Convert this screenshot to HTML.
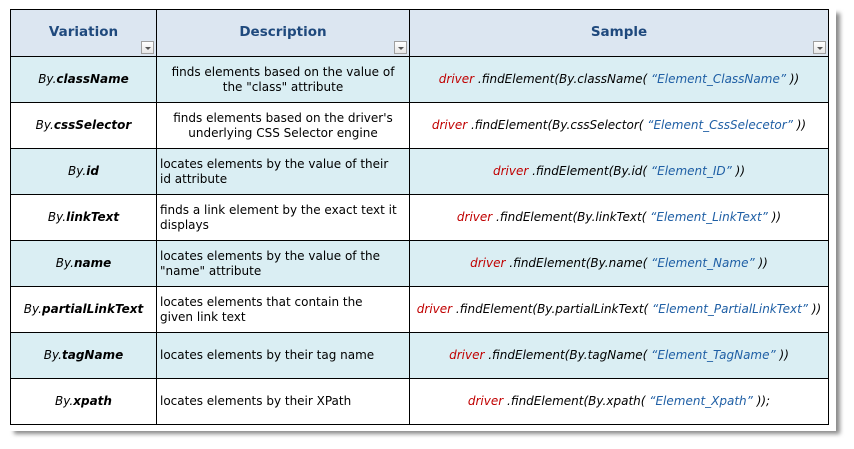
<!DOCTYPE html>
<html><head><meta charset="utf-8"><style>
html,body{margin:0;padding:0;background:#fff;width:854px;height:449px;overflow:hidden}
.shadow{position:absolute;left:14px;top:13px;width:826px;height:421px;background:#8a8a8a;filter:blur(2px)}
.wrap{position:absolute;left:0;top:0;width:836px;height:431px;background:#fff}
table{position:absolute;left:10px;top:9px;border-collapse:collapse;table-layout:fixed;font-family:"DejaVu Sans","Liberation Sans",sans-serif;font-size:12px;color:#000}
td,th{border:1px solid #000;height:45px;padding:0 3px;line-height:15px;overflow:hidden;white-space:nowrap}
th{background:#dce6f1;color:#1f497d;font-size:13.5px;font-weight:bold;position:relative;height:44px;padding-bottom:2px}
.b td{background:#daeef3}
.c1{text-align:center;font-style:italic}
.c1 b{font-weight:bold}
.c2c{text-align:center}
.c3{text-align:center;font-style:italic}
.r{color:#c00000}.s{color:#1f5fa5}
.dd{position:absolute;right:2px;bottom:2px;width:13px;height:13px;border:1px solid #a0a0a0;background:linear-gradient(#fff,#e6e6e6);box-sizing:border-box}
.dd:after{content:"";position:absolute;left:3px;top:5px;border-left:3px solid transparent;border-right:3px solid transparent;border-top:3px solid #555}
</style></head><body>
<div class="shadow"></div>
<div class="wrap"></div>
<table>
<colgroup><col style="width:146px"><col style="width:253px"><col style="width:419px"></colgroup>
<tr><th>Variation<span class="dd"></span></th><th>Description<span class="dd"></span></th><th>Sample<span class="dd"></span></th></tr>
<tr class="b"><td class="c1">By.<b>className</b></td><td class="c2c">finds elements based on the value of<br>the "class" attribute</td><td class="c3"><span class="r">driver</span> .findElement(By.className( <span class="s">“Element_ClassName”</span> ))</td></tr>
<tr><td class="c1">By.<b>cssSelector</b></td><td class="c2c">finds elements based on the driver's<br>underlying CSS Selector engine</td><td class="c3"><span class="r">driver</span> .findElement(By.cssSelector( <span class="s">“Element_CssSelecetor”</span> ))</td></tr>
<tr class="b"><td class="c1">By.<b>id</b></td><td>locates elements by the value of their<br>id attribute</td><td class="c3"><span class="r">driver</span> .findElement(By.id( <span class="s">“Element_ID”</span> ))</td></tr>
<tr><td class="c1">By.<b>linkText</b></td><td>finds a link element by the exact text it<br>displays</td><td class="c3"><span class="r">driver</span> .findElement(By.linkText( <span class="s">“Element_LinkText”</span> ))</td></tr>
<tr class="b"><td class="c1">By.<b>name</b></td><td>locates elements by the value of the<br>"name" attribute</td><td class="c3"><span class="r">driver</span> .findElement(By.name( <span class="s">“Element_Name”</span> ))</td></tr>
<tr><td class="c1">By.<b>partialLinkText</b></td><td>locates elements that contain the<br>given link text</td><td class="c3"><span class="r">driver</span> .findElement(By.partialLinkText( <span class="s">“Element_PartialLinkText”</span> ))</td></tr>
<tr class="b"><td class="c1">By.<b>tagName</b></td><td>locates elements by their tag name</td><td class="c3"><span class="r">driver</span> .findElement(By.tagName( <span class="s">“Element_TagName”</span> ))</td></tr>
<tr><td class="c1">By.<b>xpath</b></td><td>locates elements by their XPath</td><td class="c3"><span class="r">driver</span> .findElement(By.xpath( <span class="s">“Element_Xpath”</span> ));</td></tr>
</table>
</body></html>
